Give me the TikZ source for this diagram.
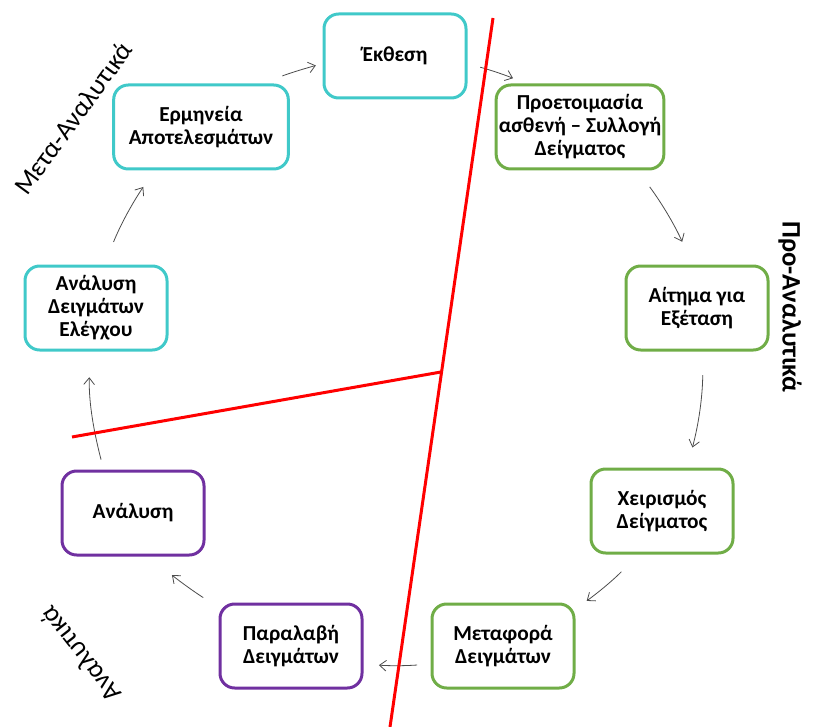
\documentclass[tikz,border=0pt]{standalone}
\usepackage{fontspec}
\setmainfont{Carlito}
\usetikzlibrary{arrows.meta}
\definecolor{cyclecyan}{RGB}{64,201,201}
\definecolor{cyclegreen}{RGB}{112,173,71}
\definecolor{cyclepurple}{RGB}{112,48,160}
\def\arrowlist{erm.35/ekth.186/3/15.5pt/5.2pt, ekth.354/pro.141/3/9.9pt/10.7pt, pro.323/ait.96/6/15.2pt/18.7pt, ait.278/xei.60/7/17.8pt/15.5pt, xei.241/met.27/5/17.9pt/10.4pt, met.194/par.346/4/10.1pt/11.6pt, par.152/ana.292/4/13.6pt/21.2pt, ana.124/ade.262/8/7.6pt/19.3pt, ade.79/erm.223/6/18.2pt/14.9pt}
\tikzstyle{stage}=[draw,line width=2.25pt,rounded corners=11pt,fill=white,minimum width=106.5pt,minimum height=63pt,align=center,inner sep=2pt,font=\bfseries\fontsize{16}{17.25}\selectfont]
\tikzstyle{stage-pre}=[stage,draw=cyclegreen]
\tikzstyle{stage-an}=[stage,draw=cyclepurple]
\tikzstyle{stage-post}=[stage,draw=cyclecyan]
\tikzstyle{flow}=[draw,line width=0.6pt,black!70,-{Straight Barb[length=5pt,width=8pt]}]
\tikzstyle{divider}=[draw,line width=2.25pt,red]
\tikzstyle{phase}=[font=\fontsize{20}{24}\selectfont,inner sep=0pt]

\begin{document}
\begin{tikzpicture}[x=0.75pt,y=-0.75pt]
  \useasboundingbox (0,0) rectangle (813,727);

  %  First we draw the boxes
  \node[stage-post] (ekth) at (395,56) {Έκθεση};
  \node[stage-pre, minimum width=118.5pt] (pro) at (580,127) {Προετοιμασία\\ασθενή – Συλλογή\\Δείγματος};
  \node[stage-pre] (ait) at (697,308) {Αίτημα για\\Εξέταση};
  \node[stage-pre] (xei) at (662,511) {Χειρισμός\\Δείγματος};
  \node[stage-pre] (met) at (503,646) {Μεταφορά\\Δειγμάτων};
  \node[stage-an] (par) at (291,646) {Παραλαβή\\Δειγμάτων};
  \node[stage-an] (ana) at (133,513) {Ανάλυση};
  \node[stage-post] (ade) at (96,308) {Ανάλυση\\Δειγμάτων\\Ελέγχου};
  \node[stage-post, minimum width=131pt] (erm) at (201,127) {Ερμηνεία\\Αποτελεσμάτων};

  % Connect boxes with arrows
  \foreach \source/\dest/\bend/\sa/\sb in \arrowlist
    \path[flow,shorten <=\sa,shorten >=\sb] (\source) to[bend left=\bend] (\dest);

  % Phase labels
  \node[phase, rotate=54] (metalbl) at (73,118) {Μετα-Αναλυτικά};
  \node[phase, rotate=-90, font=\bfseries\fontsize{20}{24}\selectfont] (prolbl) at (790,307) {Προ-Αναλυτικά};
  \node[phase, rotate=128] (analbl) at (80,655) {Αναλυτικά};

  % Dividing lines
  \coordinate (cutTop) at (493,18);
  \coordinate (cutBot) at (390,727);
  \coordinate (cutLeft) at (72,437);
  \coordinate (cutMid) at (441,372);
  \path[divider] (cutTop) -- (cutBot);
  \path[divider] (cutLeft) -- (cutMid);
\end{tikzpicture}
\end{document}
